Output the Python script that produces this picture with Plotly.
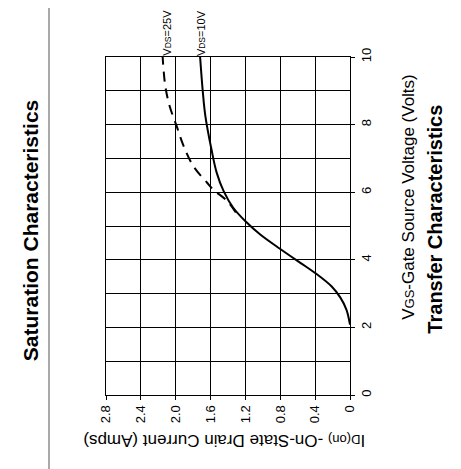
import plotly.graph_objects as go

# ---- data ----
vgs_10 = [2.08, 2.52, 2.88, 3.21, 3.61, 3.91, 4.32, 4.75, 5.14, 5.54, 6.03, 6.58, 7.27, 8.26, 9.0, 10.0]
id_10 = [0.00, 0.04, 0.11, 0.21, 0.40, 0.57, 0.80, 1.03, 1.20, 1.34, 1.45, 1.53, 1.59, 1.66, 1.69, 1.72]

vgs_25 = [5.40, 5.74, 6.08, 6.28, 6.78, 7.37, 7.96, 8.55, 9.15, 10.0]
id_25 = [1.31, 1.41, 1.57, 1.64, 1.80, 1.91, 1.99, 2.07, 2.12, 2.15]

id_ticks = [0, 0.4, 0.8, 1.2, 1.6, 2.0, 2.4, 2.8]
id_tick_labels = ["0", "0.4", "0.8", "1.2", "1.6", "2.0", "2.4", "2.8"]
vgs_ticks = [0, 2, 4, 6, 8, 10]
vgs_tick_labels = ["0", "2", "4", "6", "8", "10"]

label_10 = "V<span style='font-size:8.5px'>DS</span>=10V"
label_25 = "V<span style='font-size:8.5px'>DS</span>=25V"
x_title = "I<span style='font-size:13px'>D(on)</span> -On-State Drain Current (Amps)"
y_title = "V<span style='font-size:13px'>GS</span>-Gate Source Voltage (Volts)"
title_right = "<b>Transfer Characteristics</b>"
title_left = "<b>Saturation Characteristics</b>"

FONT = "Arial, Liberation Sans, sans-serif"

fig = go.Figure()
fig.add_trace(go.Scatter(x=id_10, y=vgs_10, mode="lines",
                         line=dict(color="black", width=2, shape="spline"),
                         showlegend=False, hoverinfo="skip"))
fig.add_trace(go.Scatter(x=id_25, y=vgs_25, mode="lines",
                         line=dict(color="black", width=2, shape="spline", dash="10px,7px"),
                         showlegend=False, hoverinfo="skip"))

# page body has an 8px default margin, so margins are reduced by 8 on left/top
fig.update_layout(
    template="none",
    width=461, height=469,
    margin=dict(l=98, r=119, t=49, b=82, autoexpand=False),
    paper_bgcolor="white", plot_bgcolor="white",
    font=dict(family=FONT, color="black", size=13),
    xaxis=dict(range=[2.8, 0], tickvals=id_ticks, ticktext=id_tick_labels,
               tickangle=-90, showgrid=True, gridcolor="black", gridwidth=1,
               zeroline=False, showline=True, linecolor="black", linewidth=1, mirror=True,
               ticks="outside", ticklen=4, tickcolor="black", automargin=False,
               tickfont=dict(size=13)),
    yaxis=dict(range=[0, 10], tickvals=vgs_ticks, ticktext=vgs_tick_labels, side="right",
               tickangle=-90, showgrid=True, gridcolor="black", gridwidth=1,
               minor=dict(dtick=1, showgrid=True, gridcolor="black", gridwidth=1),
               zeroline=False, showline=True, linecolor="black", linewidth=1, mirror=True,
               ticks="outside", ticklen=4, tickcolor="black", automargin=False,
               tickfont=dict(size=13)),
)

anns = [
    dict(text=x_title, xref="paper", yref="paper", x=0.484, y=-0.134, textangle=180,
         font=dict(size=17)),
    dict(text=y_title, xref="paper", yref="paper", x=1.24, y=0.585, textangle=-90,
         font=dict(size=17)),
    dict(text=title_right, xref="paper", yref="paper", x=1.35, y=0.52, textangle=-90,
         font=dict(size=20)),
    dict(text=title_left, xref="paper", yref="paper", x=-0.311, y=0.485, textangle=-90,
         font=dict(size=21)),
]
for a in anns:
    a.update(showarrow=False, xanchor="center", yanchor="middle")
    fig.add_annotation(**a)

fig.add_annotation(text=label_25, x=id_25[-1], y=10, xref="x", yref="y", textangle=-90,
                   showarrow=False, xanchor="center", yanchor="bottom", xshift=4,
                   borderpad=0, font=dict(size=11))
fig.add_annotation(text=label_10, x=id_10[-1], y=10, xref="x", yref="y", textangle=-90,
                   showarrow=False, xanchor="center", yanchor="bottom", xshift=1,
                   borderpad=0, font=dict(size=11))

fig.add_shape(type="line", xref="paper", yref="paper", x0=-0.2336, x1=-0.2336,
              y0=-0.25, y1=1.2, line=dict(color="#555555", width=1))

fig.write_html("out.html")
